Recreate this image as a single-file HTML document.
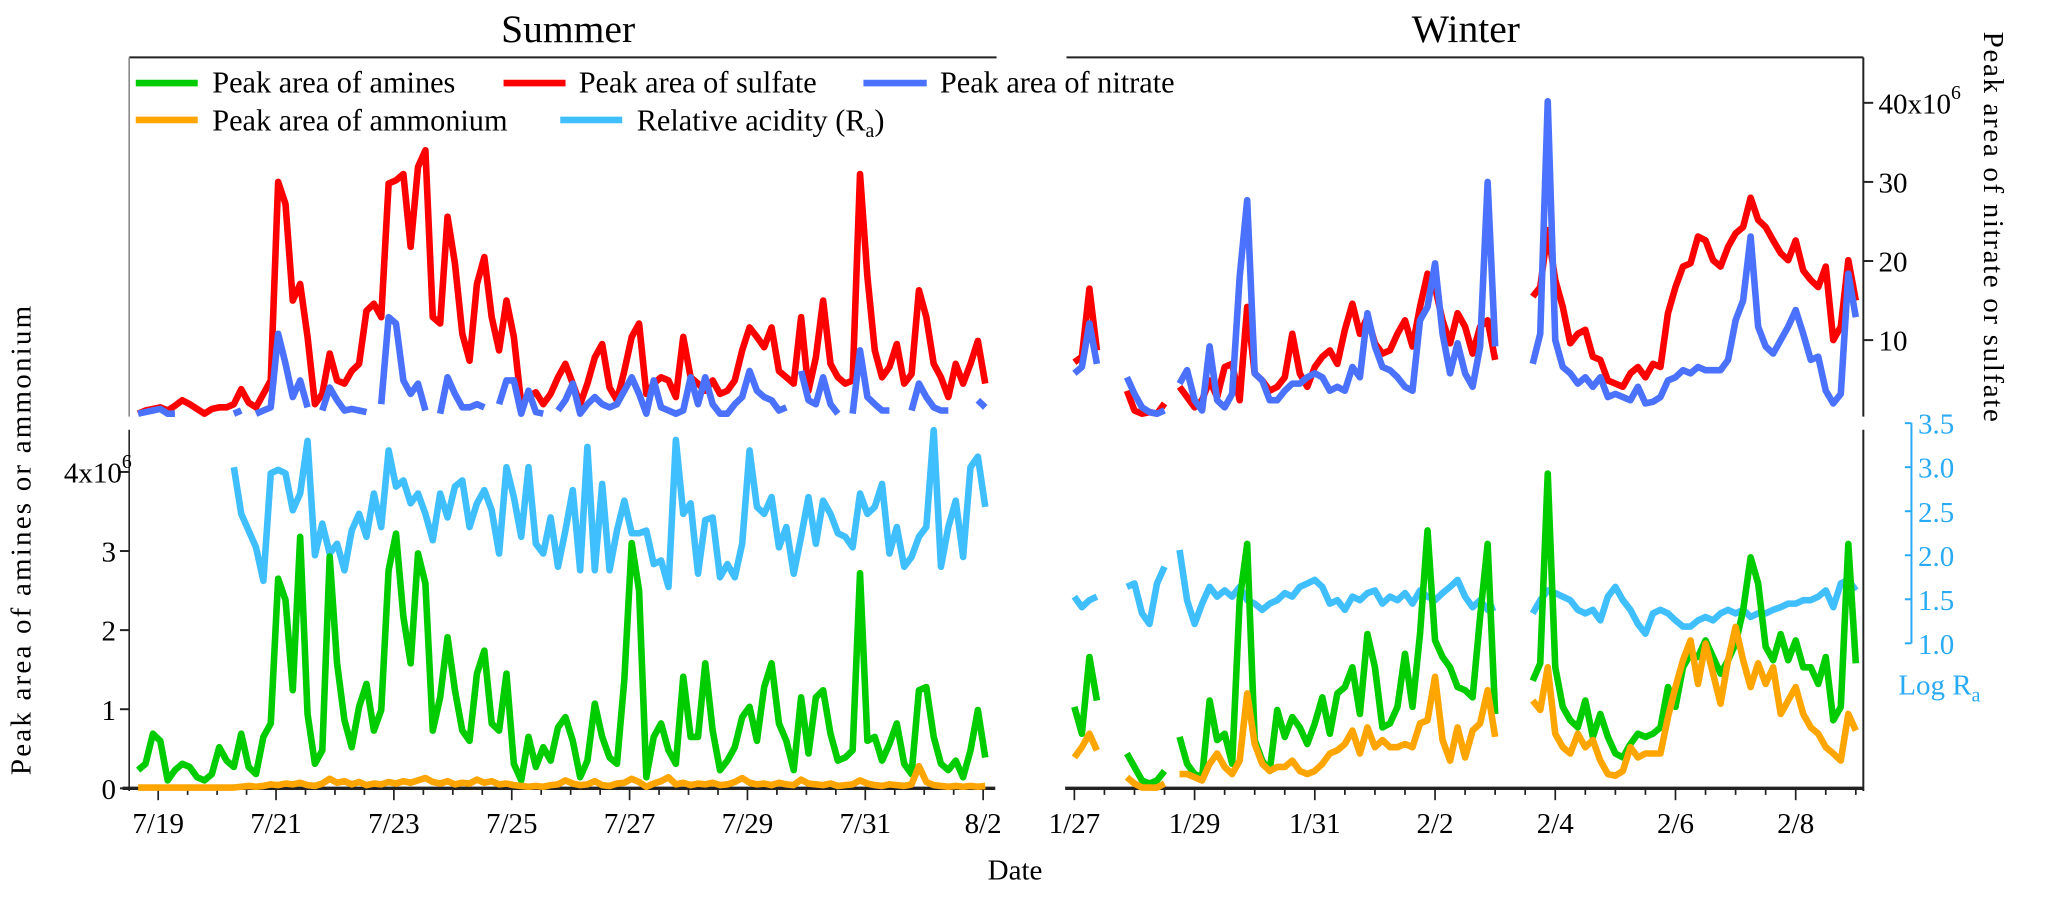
<!DOCTYPE html>
<html><head><meta charset="utf-8"><style>
html,body{margin:0;padding:0;background:#fff;}
svg{display:block;font-family:"Liberation Serif","Times New Roman",serif;}
</style></head><body>
<svg id="chart" width="2067" height="898" viewBox="0 0 1568 681.2" xmlns="http://www.w3.org/2000/svg">
<g id="frame"></g>
<g id="series"></g>
<g id="legend">
  <line x1="103" y1="63" x2="150" y2="63" stroke="#00cc00" stroke-width="5"/>
  <text x="161" y="70" font-size="23">Peak area of amines</text>
  <line x1="382" y1="63" x2="429" y2="63" stroke="#ff0000" stroke-width="5"/>
  <text x="439" y="70" font-size="23">Peak area of sulfate</text>
  <line x1="655" y1="63" x2="703" y2="63" stroke="#4a72ff" stroke-width="5"/>
  <text x="713" y="70" font-size="23">Peak area of nitrate</text>
  <line x1="103" y1="91" x2="150" y2="91" stroke="#ffa500" stroke-width="5"/>
  <text x="161" y="99" font-size="23">Peak area of ammonium</text>
  <line x1="425" y1="91" x2="472" y2="91" stroke="#40bfff" stroke-width="5"/>
  <text x="483" y="99" font-size="23">Relative acidity (R<tspan dy="5" font-size="15">a</tspan><tspan dy="-5">)</tspan></text>
</g>
<text x="431" y="32" font-size="30" text-anchor="middle">Summer</text>
<text x="1112" y="32" font-size="30" text-anchor="middle">Winter</text>
<text x="770" y="667" font-size="22" text-anchor="middle">Date</text>
<text transform="translate(23,410) rotate(-90)" font-size="22" text-anchor="middle" textLength="356" lengthAdjust="spacing">Peak area of amines or ammonium</text>
<text transform="translate(1505,172) rotate(90)" font-size="22" text-anchor="middle" textLength="296" lengthAdjust="spacing">Peak area of nitrate or sulfate</text>
<text x="1440" y="527" font-size="22" fill="#29aaf5">Log R<tspan dy="5" font-size="15">a</tspan></text>
</svg>
<script>
const summerStart = -0.34;
const summerStep = 0.125;
const winterStart = 0;
const winterStep = 0.125;

const summerTickLabels = ['7/19','7/21','7/23','7/25','7/27','7/29','7/31','8/2'];
const winterTickLabels = ['1/27','1/29','1/31','2/2','2/4','2/6','2/8'];
const topTickValues = [10,20,30,40];
const leftTickValues = [0,1,2,3,4];
const raTickValues = [1.0,1.5,2.0,2.5,3.0,3.5];

const sulfateSummer = [0.7,1.1,1.3,1.5,1.1,1.7,2.4,1.9,1.3,0.7, 1.3,1.5,1.5,1.9,3.8,2.1,1.5,3.2,4.9,30, 27.2,15.0,17.1,10.4,1.9,3.2,8.3,4.9,4.5,6.1, 7.0,13.7,14.6,12.9,29.8,30.2,31,21.8,31.9,34, 12.9,12.1,25.6,19.7,10.8,7.4,17.1,20.5,12.9,8.7, 15.0,10.4,1.9,2.8,3.4,1.9,3.2,5.3,7.0,4.5, 1.9,4.5,7.8,9.5,4.0,2.4,6.1,10.4,12.1,3.2, 4.5,5.3,4.9,2.8,10.4,5.3,4.5,3.6,4.9,3.2, 3.6,4.9,8.7,11.6,10.4,9.1,11.6,6.1,5.3,4.5, 12.9,3.6,7.8,15.0,7.0,5.3,4.5,4.9,31,18.0, 8.7,5.3,6.6,9.5,4.5,5.7,16.3,12.9,7.0,5.3, 2.8,7.0,4.5,7.0,9.9,4.5];
const nitrateSummer = [0.7,0.9,1.1,1.3,0.7,0.7,null,null,0.5,null, 0.7,null,null,0.7,1.1,null,0.7,1.1,1.5,10.8, 7.0,2.8,4.9,1.5,null,1.1,4.0,2.4,1.1,1.3, 1.1,0.9,null,1.9,12.9,12.1,4.9,3.2,4.5,1.1, null,0.7,5.3,3.2,1.5,1.5,1.9,1.5,null,1.9, 4.9,4.9,0.7,3.6,0.9,0.7,null,1.1,2.4,4.5, 0.7,1.9,2.8,1.9,1.5,1.9,3.6,5.3,3.2,0.7, 4.9,1.5,1.1,0.7,1.1,5.3,1.9,5.3,1.9,0.7, 0.7,1.9,2.8,6.1,3.6,2.8,2.4,1.1,1.5,null, 6.1,2.4,1.9,5.3,1.9,0.7,null,0.7,8.7,2.8, 1.9,1.1,1.1,null,null,1.1,4.5,2.8,1.5,1.1, 1.1,null,null,null,2.4,1.5];
const aminesSummer = [0.23,0.31,0.69,0.60,0.10,0.23,0.31,0.27,0.14,0.10, 0.18,0.52,0.35,0.27,0.69,0.27,0.18,0.65,0.82,2.65, 2.38,1.24,3.18,0.94,0.31,0.48,2.93,1.58,0.86,0.52, 1.03,1.32,0.73,0.99,2.76,3.22,2.17,1.58,2.97,2.59, 0.73,1.15,1.91,1.24,0.73,0.60,1.45,1.74,0.82,0.73, 1.45,0.31,0.10,0.65,0.27,0.52,0.35,0.77,0.90,0.60, 0.14,0.35,1.07,0.65,0.39,0.31,1.37,3.1,2.50,0.14, 0.65,0.82,0.48,0.31,1.41,0.65,0.65,1.58,0.73,0.23, 0.35,0.52,0.90,1.03,0.60,1.28,1.58,0.82,0.60,0.23, 1.15,0.44,1.15,1.24,0.69,0.35,0.39,0.48,2.72,0.60, 0.65,0.35,0.56,0.82,0.31,0.18,1.24,1.28,0.65,0.31, 0.23,0.35,0.14,0.48,0.99,0.39];
const ammoniumSummer = [0.01,0.01,0.01,0.01,0.01,0.01,0.01,0.01,0.01,0.01, 0.01,0.01,0.01,0.01,0.02,0.03,0.02,0.03,0.05,0.04, 0.06,0.05,0.07,0.04,0.03,0.06,0.12,0.07,0.09,0.05, 0.08,0.04,0.06,0.05,0.08,0.06,0.09,0.07,0.1,0.13, 0.08,0.06,0.09,0.05,0.07,0.06,0.11,0.07,0.09,0.05, 0.06,0.04,0.03,0.02,0.03,0.02,0.04,0.05,0.1,0.06, 0.04,0.05,0.09,0.04,0.03,0.06,0.07,0.12,0.08,0.02, 0.06,0.09,0.14,0.05,0.07,0.04,0.06,0.05,0.07,0.04, 0.05,0.08,0.13,0.07,0.05,0.06,0.04,0.07,0.05,0.04, 0.11,0.06,0.05,0.04,0.06,0.03,0.04,0.05,0.1,0.06, 0.04,0.03,0.05,0.04,0.03,0.05,0.28,0.08,0.04,0.03, 0.02,0.03,0.02,0.03,0.02,0.03];
const raSummer = [null,null,null,null,null,null,null,null,null,null, null,null,null,3.00,2.47,2.28,2.09,1.71,2.93,2.97, 2.93,2.51,2.70,3.30,2.0,2.36,2.02,2.13,1.83,2.28, 2.47,2.21,2.70,2.32,3.19,2.78,2.85,2.59,2.70,2.47, 2.17,2.70,2.43,2.78,2.85,2.32,2.59,2.74,2.51,2.02, 3.00,2.66,2.21,3.00,2.13,2.02,2.43,1.87,2.28,2.74, 1.83,3.23,1.83,2.81,1.83,2.28,2.62,2.25,2.25,2.28, 1.90,1.94,1.64,3.31,2.47,2.59,1.79,2.40,2.43,1.75, 1.90,1.75,2.13,3.19,2.55,2.47,2.66,2.09,2.32,1.79, 2.21,2.66,2.13,2.62,2.47,2.25,2.21,2.09,2.70,2.47, 2.55,2.81,2.02,2.32,1.87,1.98,2.21,2.32,3.42,1.87, 2.32,2.62,1.98,3.00,3.12,2.55];

const sulfateWinter = [7.2,7.9,16.5,8.7,null,null,null,3.6,1.1,0.7, 0.9,0.7,2.0,null,4.1,2.8,1.5,2.4,4.9,2.8, 6.6,7.0,2.4,14.2,5.8,4.9,3.6,4.1,5.3,10.8, 5.8,4.1,6.6,7.9,8.7,7.0,11.3,14.6,10.8,12.9, 9.6,8.3,8.7,10.8,12.5,9.2,14.2,18.4,16.7,12.5, 9.6,13.4,11.7,8.3,11.7,12.5,7.5,null,null,null, null,15.5,16.7,23.9,17.6,14.2,9.6,10.8,11.3,7.9, 7.5,4.9,4.5,4.1,5.8,6.6,5.3,7.0,6.6,13.4, 16.7,19.3,19.7,23.1,22.6,20.1,19.3,21.8,23.5,24.3, 28.0,25.2,24.3,22.6,21.0,20.1,22.6,18.8,17.6,16.7, 19.3,10.0,11.7,20.1,15.0];
const nitrateWinter = [5.8,6.6,12.1,7.0,null,null,null,5.3,3.2,1.5, 0.9,0.7,1.1,null,4.5,6.2,2.4,1.1,9.2,2.4, 1.5,3.2,18.0,27.7,5.8,4.9,2.4,2.4,3.6,4.5, 4.5,5.3,5.8,5.3,3.6,4.1,3.6,6.6,5.3,13.4, 9.2,6.6,6.2,5.3,4.1,3.6,12.5,14.2,19.7,10.8, 5.8,9.6,5.8,4.1,9.2,30.0,9.2,null,null,null, null,7.0,10.8,40.2,10.0,6.6,5.8,4.5,5.3,4.1, 5.3,2.8,3.2,2.8,2.4,4.1,2.0,2.2,2.8,4.9, 5.3,6.2,5.8,6.6,6.2,6.2,6.2,7.5,12.5,15.0, 23.1,11.7,9.2,8.3,10.0,11.7,13.8,10.8,7.5,7.9, 3.6,2.0,3.2,18.4,12.9];
const aminesWinter = [1.03,0.69,1.66,1.11,null,null,null,0.44,0.27,0.10, 0.06,0.10,0.22,null,0.65,0.31,0.18,0.14,1.11,0.61, 0.69,0.31,2.38,3.09,0.61,0.35,0.22,0.99,0.65,0.90, 0.77,0.56,0.82,1.15,0.69,1.20,1.28,1.53,0.94,1.95, 1.53,0.77,0.82,1.03,1.70,1.03,1.95,3.26,1.87,1.66, 1.53,1.28,1.24,1.15,2.17,3.09,0.94,null,null,null, null,1.36,1.58,3.98,1.53,1.03,0.86,0.77,1.11,0.65, 0.94,0.65,0.44,0.39,0.56,0.69,0.65,0.69,0.77,1.28, 1.03,1.53,1.70,1.66,1.87,1.66,1.45,1.62,1.83,2.25, 2.92,2.59,1.79,1.62,1.95,1.62,1.87,1.53,1.53,1.32, 1.66,0.86,1.03,3.09,1.58];
const ammoniumWinter = [0.39,0.52,0.69,0.48,null,null,null,0.14,0.06,0.01, 0.01,0.01,0.06,null,0.18,0.18,0.14,0.10,0.31,0.44, 0.27,0.18,0.35,1.20,0.56,0.31,0.22,0.27,0.27,0.35, 0.22,0.18,0.22,0.31,0.44,0.48,0.56,0.73,0.44,0.77, 0.52,0.61,0.52,0.52,0.56,0.52,0.82,0.86,1.41,0.61, 0.35,0.77,0.39,0.73,0.82,1.24,0.65,null,null,null, null,1.11,0.99,1.53,0.69,0.52,0.44,0.69,0.52,0.61, 0.35,0.18,0.16,0.22,0.52,0.39,0.44,0.44,0.44,0.90, 1.28,1.62,1.87,1.32,1.83,1.45,1.07,1.62,2.04,1.62, 1.28,1.58,1.32,1.53,0.94,1.11,1.28,0.94,0.77,0.69, 0.52,0.44,0.35,0.94,0.73];
const raWinter = [1.53,1.41,1.49,1.53,null,null,null,1.64,1.68,1.34, 1.22,1.68,1.87,null,2.06,1.49,1.22,1.45,1.64,1.53, 1.60,1.53,1.64,1.49,1.45,1.38,1.45,1.49,1.57,1.53, 1.64,1.68,1.72,1.64,1.45,1.49,1.38,1.53,1.49,1.57, 1.60,1.45,1.53,1.49,1.57,1.45,1.60,1.53,1.49,1.57, 1.64,1.72,1.53,1.41,1.49,1.38,1.41,null,null,null, null,1.34,1.49,1.60,1.57,1.53,1.49,1.38,1.34,1.38, 1.26,1.53,1.64,1.49,1.38,1.22,1.11,1.34,1.38,1.34, 1.26,1.19,1.19,1.26,1.30,1.26,1.34,1.38,1.34,1.38, 1.30,1.34,1.34,1.38,1.41,1.45,1.45,1.49,1.49,1.53, 1.60,1.41,1.68,1.72,1.60];

function xSummer(d){ return 120 + 44.7*d; }
function xWinter(d){ return 815 + 45.6*d; }
function yTop(v){ return 318 - 6*v; }
function yBottom(v){ return 598 - 60*v; }
function yRa(r){ return 488 - 66.8*(r-1); }

const NS = 'http://www.w3.org/2000/svg';
const frame = document.getElementById('frame');
const series = document.getElementById('series');
function mk(tag, attrs, parent){
  const e = document.createElementNS(NS, tag);
  for (const k in attrs) e.setAttribute(k, attrs[k]);
  parent.appendChild(e);
  return e;
}
function line(x1,y1,x2,y2,w,name,color){
  const e = mk('line',{x1:x1,y1:y1,x2:x2,y2:y2,stroke:color||'#222','stroke-width':w},frame);
  
  
  return e;
}
function label(x,y,txt,anchor,name,color){
  const t = mk('text',{x:x,y:y,'font-size':22,'text-anchor':anchor,fill:color||'#000'},frame);
  t.textContent = txt;
  
  
  return t;
}

line(98,43.5,756,43.5,1.5,'summer-top-border');
line(809,43.5,1413.5,43.5,1.5,'winter-top-border');
line(98,43.5,98,316,1.2,'left-axis-top-panel','#888');
line(98,326,98,600,1.2,'left-axis-bottom-panel');
line(1413.5,43.5,1413.5,316,1.5,'right-axis-top-panel');
line(1413.5,326,1413.5,600,1.5,'right-axis-bottom-panel');
line(93,598,755,598,2.5,'summer-x-axis');
line(808,598,1413.5,598,2.5,'winter-x-axis');

topTickValues.forEach(function(v,i){
  line(1413.5,yTop(v),1421,yTop(v),1.5,'right-tick-'+v);
  const t = label(1425,yTop(v)+8,String(v),'start','right-tick-label-'+v);
  if (i===topTickValues.length-1){
    t.textContent='';
    t.appendChild(document.createTextNode(v+'x10'));
    const s = mk('tspan',{dy:-11,'font-size':15},t); s.textContent='6';
  }
});
leftTickValues.forEach(function(v,i){
  line(91,yBottom(v),98,yBottom(v),1.5,'left-tick-'+v);
  const t = label(88,yBottom(v)+8,String(v),'end','left-tick-label-'+v);
  if (i===leftTickValues.length-1){
    t.textContent=''; t.setAttribute('x',100);
    t.appendChild(document.createTextNode(v+'x10'));
    const s = mk('tspan',{dy:-11,'font-size':15},t); s.textContent='6';
  }
});
line(1450,yRa(3.5),1450,yRa(1.0),1.5,'ra-axis-line','#29aaf5');
raTickValues.forEach(function(v){
  line(1445,yRa(v),1450,yRa(v),1.5,'ra-tick-'+v,'#29aaf5');
  label(1455,yRa(v)+8,v.toFixed(1),'start','ra-tick-label-'+v,'#29aaf5');
});
for (let k=0;k<=28;k++){
  const d = k*0.5; const major = (k%4===0);
  line(xSummer(d),598,xSummer(d),major?607:603,1.3,'summer-x-tick');
}
summerTickLabels.forEach(function(s,i){ label(xSummer(2*i),632,s,'middle','summer-x-label-'+s.replace('/','-')); });
for (let k=0;k<=26;k++){
  const d = k*0.5; const major = (k%4===0);
  if (xWinter(d)>1413) continue;
  line(xWinter(d),598,xWinter(d),major?607:603,1.3,'winter-x-tick');
}
winterTickLabels.forEach(function(s,i){ label(xWinter(2*i),632,s,'middle','winter-x-label-'+s.replace('/','-')); });

function drawSeries(vals,start,step,xf,yf,color,name){
  let d=''; let pen=false;
  vals.forEach(function(v,i){
    if (v===null||v===undefined){ pen=false; return; }
    const x = xf(start+i*step), y = yf(v);
    d += (pen?'L':'M') + x.toFixed(1) + ' ' + y.toFixed(1) + ' ';
    pen = true;
  });
  const p = mk('path',{d:d,fill:'none',stroke:color,'stroke-width':5,'stroke-linejoin':'round','stroke-linecap':'butt'},series);
  
  
}
drawSeries(sulfateSummer,summerStart,summerStep,xSummer,yTop,'#ff0000','sulfate-summer-line');
drawSeries(nitrateSummer,summerStart,summerStep,xSummer,yTop,'#4a72ff','nitrate-summer-line');
drawSeries(sulfateWinter,winterStart,winterStep,xWinter,yTop,'#ff0000','sulfate-winter-line');
drawSeries(nitrateWinter,winterStart,winterStep,xWinter,yTop,'#4a72ff','nitrate-winter-line');
drawSeries(raSummer,summerStart,summerStep,xSummer,yRa,'#40bfff','ra-summer-line');
drawSeries(raWinter,winterStart,winterStep,xWinter,yRa,'#40bfff','ra-winter-line');
drawSeries(aminesSummer,summerStart,summerStep,xSummer,yBottom,'#00cc00','amines-summer-line');
drawSeries(aminesWinter,winterStart,winterStep,xWinter,yBottom,'#00cc00','amines-winter-line');
drawSeries(ammoniumSummer,summerStart,summerStep,xSummer,yBottom,'#ffa500','ammonium-summer-line');
drawSeries(ammoniumWinter,winterStart,winterStep,xWinter,yBottom,'#ffa500','ammonium-winter-line');
</script>
</body></html>
